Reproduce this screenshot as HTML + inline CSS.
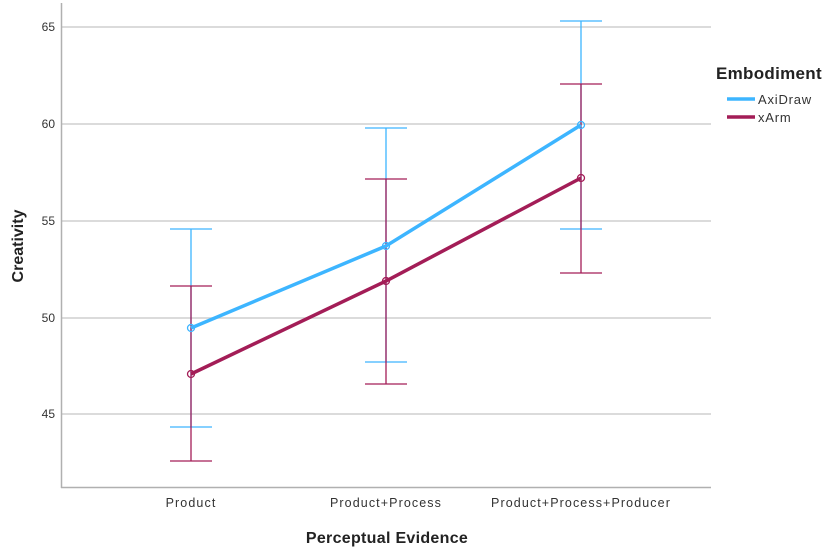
<!DOCTYPE html>
<html><head><style>body{margin:0;background:#fff}svg{display:block}</style></head><body>
<svg width="836" height="553" xmlns="http://www.w3.org/2000/svg" font-family="Liberation Sans, Arial, sans-serif">
<rect width="836" height="553" fill="#fff"/>
<g stroke="#cfcfcf" stroke-width="1.5">
<line x1="62" y1="27" x2="711" y2="27"/><line x1="62" y1="124" x2="711" y2="124"/>
<line x1="62" y1="221" x2="711" y2="221"/><line x1="62" y1="318" x2="711" y2="318"/>
<line x1="62" y1="414" x2="711" y2="414"/>
</g>
<line x1="61.5" y1="3" x2="61.5" y2="488" stroke="#b0b0b0" stroke-width="1.5"/>
<line x1="61" y1="487.5" x2="711" y2="487.5" stroke="#b0b0b0" stroke-width="1.5"/>
<g font-size="12" fill="#333" text-anchor="end">
<text x="55" y="31">65</text><text x="55" y="128">60</text><text x="55" y="225">55</text><text x="55" y="322">50</text><text x="55" y="418">45</text>
</g>
<g font-size="12.5" fill="#333" text-anchor="middle" letter-spacing="1.1">
<text x="191" y="507">Product</text><text x="386" y="507">Product+Process</text><text x="581" y="507">Product+Process+Producer</text>
</g>
<text x="387" y="543" font-size="16" font-weight="bold" text-anchor="middle" fill="#222" letter-spacing="0.3">Perceptual Evidence</text>
<text transform="translate(23,246) rotate(-90)" font-size="16" font-weight="bold" text-anchor="middle" fill="#222">Creativity</text>
<g stroke="#3db5ff" stroke-width="1.3" fill="none">
<path d="M191 427V229M170 427H212M170 229H212"/>
<path d="M386 362V128M365 362H407M365 128H407"/>
<path d="M581 229V21M560 229H602M560 21H602"/>
</g>
<g stroke="#a31d57" stroke-width="1.3" fill="none">
<path d="M191 461V286M170 461H212M170 286H212"/>
<path d="M386 384V179M365 384H407M365 179H407"/>
<path d="M581 273V84M560 273H602M560 84H602"/>
</g>
<polyline points="191,328 386,246 581,125" fill="none" stroke="#3db5ff" stroke-width="3.5"/>
<polyline points="191,374 386,281 581,178" fill="none" stroke="#a31d57" stroke-width="3.5"/>
<g fill="none" stroke-width="1.3">
<circle cx="191" cy="328" r="3.5" stroke="#3db5ff"/><circle cx="386" cy="246" r="3.5" stroke="#3db5ff"/><circle cx="581" cy="125" r="3.5" stroke="#3db5ff"/>
<circle cx="191" cy="374" r="3.5" stroke="#a31d57"/><circle cx="386" cy="281" r="3.5" stroke="#a31d57"/><circle cx="581" cy="178" r="3.5" stroke="#a31d57"/>
</g>
<text x="716" y="79" font-size="17" font-weight="bold" fill="#222" letter-spacing="0.3">Embodiment</text>
<line x1="727" y1="99" x2="755" y2="99" stroke="#3db5ff" stroke-width="3.5"/>
<text x="758" y="104" font-size="13" fill="#333" letter-spacing="0.8">AxiDraw</text>
<line x1="727" y1="117" x2="755" y2="117" stroke="#a31d57" stroke-width="3.5"/>
<text x="758" y="122" font-size="13" fill="#333" letter-spacing="0.8">xArm</text>
</svg>
</body></html>
